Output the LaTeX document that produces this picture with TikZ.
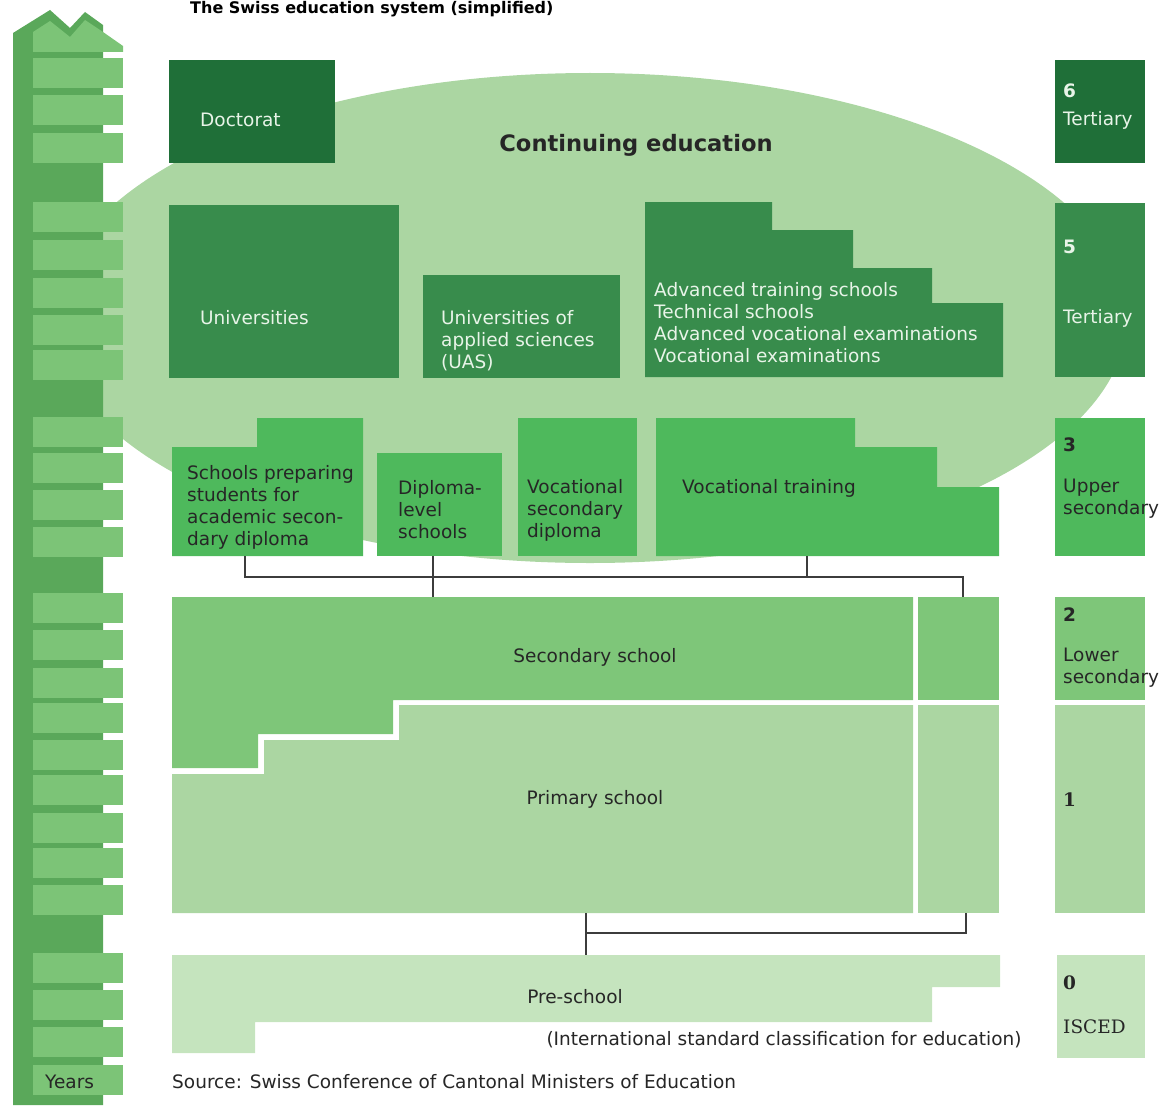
\documentclass[tikz,border=0pt]{standalone}
\usepackage{fontspec}
\setmainfont{DejaVu Sans}
\newfontfamily\iscedfont{DejaVu Serif}
\usetikzlibrary{positioning}
\definecolor{gdoc}{RGB}{31,111,56}
\definecolor{gter}{RGB}{56,140,76}
\definecolor{gupp}{RGB}{78,185,92}
\definecolor{glow}{RGB}{126,198,121}
\definecolor{gpri}{RGB}{171,214,162}
\definecolor{gpre}{RGB}{197,228,190}
\definecolor{gspine}{RGB}{90,168,90}
\definecolor{grung}{RGB}{124,196,119}
\definecolor{gtxt}{RGB}{232,244,232}
\definecolor{glink}{RGB}{60,60,60}
\newcommand\chartfont{\fontsize{18.5}{22}\selectfont}
\tikzset{
  box/.style={rectangle,inner sep=0pt,outer sep=0pt,anchor=north west},
  lbl/.style={inner sep=0pt,anchor=west,align=left,text=black!85,font=\chartfont},
  wlbl/.style={lbl,text=gtxt},
  num/.style={lbl,font=\chartfont\bfseries},
  snum/.style={lbl,font=\chartfont\iscedfont\bfseries},
  link/.style={draw=glink,line width=2pt}
}
\newcommand\lvlbox[6]{\node[box,fill=#2,minimum width={(#5-#3)*1pt},minimum height={(#6-#4)*1pt}] (#1) at (#3,#4) {};}
\begin{document}
\begin{tikzpicture}[x=1pt,y=-1pt]
\useasboundingbox (0,0) rectangle (1161,1105);
\clip (0,0) rectangle (1161,1105);
\node[anchor=base west,inner sep=0pt,font=\fontsize{16}{18}\selectfont\bfseries] (title) at (190,14) {The Swiss education system (simplified)};

\fill[gpri] (590,318) ellipse [x radius=537,y radius=245];
\node[font=\fontsize{22.6}{26}\selectfont\bfseries,text=black!85] (cont) at (636,145) {Continuing education};

\fill[gspine] (13,1105) -- (13,33) -- (50,10) -- (70,28) -- (85,12) -- (103,25) -- (103,1105) -- cycle;
\fill[grung] (33,52) -- (33,32) -- (50,21) -- (70,37) -- (85,20) -- (103,32) -- (123,46) -- (123,52) -- cycle;
\foreach \y in {58,95,133,202,240,278,315,350,417,453,490,527,593,630,668,703,740,775,813,848,885,953,990,1027,1065}
  \fill[grung] (33,\y) rectangle (123,\y+30);
\node[lbl] (years) at (45,1082) {Years};

\lvlbox{doc}{gdoc}{169}{60}{335}{163}
\node[wlbl] (doc-l) at (200,120) {Doctorat};
\lvlbox{ter6}{gdoc}{1055}{60}{1145}{163}
\node[num,text=gtxt] (ter6-n) at (1063,91) {6};
\node[wlbl] (ter6-l) at (1063,120) {Tertiary};

\lvlbox{uni}{gter}{169}{205}{399}{378}
\node[wlbl] (uni-l) at (200,318) {Universities};
\lvlbox{uas}{gter}{423}{275}{620}{378}
\node[wlbl] (uas-l) at (441,341) {Universities of\\applied sciences\\(UAS)};
\fill[gter] (645,202) -- (772,202) -- (772,230) -- (853,230) -- (853,268) -- (932,268) -- (932,303) -- (1003,303) -- (1003,377) -- (645,377) -- cycle;
\node[wlbl] (adv-l) at (654,323) {Advanced training schools\\Technical schools\\Advanced vocational examinations\\Vocational examinations};
\lvlbox{ter5}{gter}{1055}{203}{1145}{377}
\node[num,text=gtxt] (ter5-n) at (1063,247) {5};
\node[wlbl] (ter5-l) at (1063,318) {Tertiary};

\fill[gupp] (172,447) -- (257,447) -- (257,418) -- (363,418) -- (363,556) -- (172,556) -- cycle;
\node[lbl] (gym-l) at (187,507) {Schools preparing\\students for\\academic secon-\\dary diploma};
\lvlbox{dms}{gupp}{377}{453}{502}{556}
\node[lbl] (dms-l) at (398,510) {Diploma-\\level\\schools};
\lvlbox{bms}{gupp}{518}{418}{637}{556}
\node[lbl] (bms-l) at (527,510) {Vocational\\secondary\\diploma};
\fill[gupp] (656,418) -- (855,418) -- (855,447) -- (937,447) -- (937,487) -- (999,487) -- (999,556) -- (656,556) -- cycle;
\node[lbl] (vt-l) at (682,488) {Vocational training};
\lvlbox{up3}{gupp}{1055}{418}{1145}{556}
\node[num] (up3-n) at (1063,445) {3};
\node[lbl] (up3-l) at (1063,499) {Upper\\secondary};

\fill[glow] (172,597) -- (913,597) -- (913,700) -- (393,700) -- (393,734) -- (258,734) -- (258,768) -- (172,768) -- cycle;
\node[lbl,anchor=center] (sec-l) at (595,657) {Secondary school};
\lvlbox{sec2}{glow}{918}{597}{999}{700}
\lvlbox{low2}{glow}{1055}{597}{1145}{700}
\node[num] (low2-n) at (1063,615) {2};
\node[lbl] (low2-l) at (1063,668) {Lower\\secondary};

\fill[gpri] (172,774) -- (264,774) -- (264,740) -- (399,740) -- (399,705) -- (913,705) -- (913,913) -- (172,913) -- cycle;
\node[lbl,anchor=center] (pri-l) at (595,799) {Primary school};
\lvlbox{pri2}{gpri}{918}{705}{999}{913}
\lvlbox{is1}{gpri}{1055}{705}{1145}{913}
\node[snum] (is1-n) at (1063,800) {1};

\fill[gpre] (172,955) -- (1000,955) -- (1000,987) -- (932,987) -- (932,1022) -- (255,1022) -- (255,1053) -- (172,1053) -- cycle;
\node[lbl,anchor=center] (pre-l) at (575,997) {Pre-school};
\lvlbox{is0}{gpre}{1057}{955}{1145}{1058}
\node[snum] (is0-n) at (1063,983) {0};
\node[lbl,font=\chartfont\iscedfont] (is0-l) at (1063,1027) {ISCED};
\node[lbl,anchor=center] (note) at (784,1040) {(International standard classification for education)};
\node[lbl] (source) at (172,1082) {Source: Swiss Conference of Cantonal Ministers of Education};

\coordinate (gym-s) at (245,556);
\coordinate (dms-s) at (433,556);
\coordinate (vt-s) at (807,556);
\coordinate (sec-n) at (433,597);
\coordinate (sec2-n) at (963,597);
\coordinate (bus-a) at (0,577);
\draw[link] (gym-s) |- (bus-a -| sec2-n) -- (sec2-n);
\draw[link] (dms-s) -- (sec-n);
\draw[link] (vt-s) -- (vt-s |- bus-a);
\coordinate (pri-s) at (586,913);
\coordinate (pri2-s) at (966,913);
\coordinate (pre-n) at (586,955);
\coordinate (bus-b) at (0,933);
\draw[link] (pri-s) -- (pre-n);
\draw[link] (pri2-s) |- (pri-s |- bus-b);
\end{tikzpicture}
\end{document}
